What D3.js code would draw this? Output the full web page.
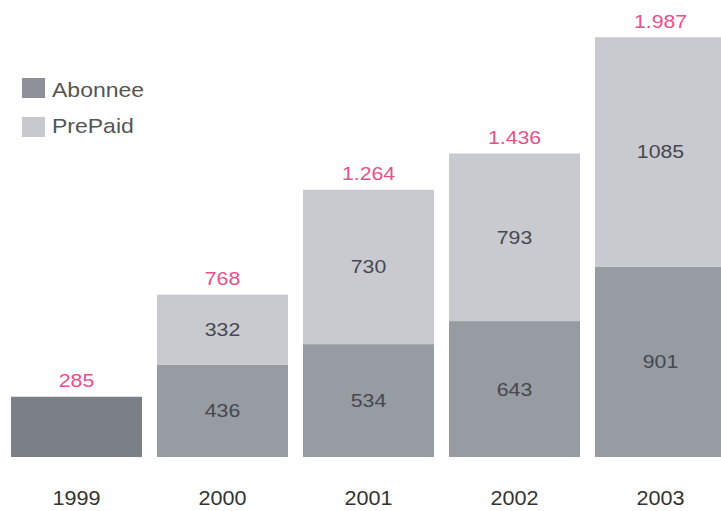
<!DOCTYPE html>
<html><head><meta charset="utf-8">
<script src="https://cdn.jsdelivr.net/npm/d3@7"></script>
<style>body{margin:0;background:#fff}svg{display:block}</style>
</head><body>
<script>
const years = ["1999","2000","2001","2002","2003"];
const abonnee = [285,436,534,643,901];
const prepaid = [0,332,730,793,1085];
const totalLabels = ["285","768","1.264","1.436","1.987"];
const seriesNames = ["Abonnee","PrePaid"];

const W=721,H=511;
const svg=d3.select("body").append("svg").attr("width",W).attr("height",H);
const font="'Liberation Sans', Arial, sans-serif";

const x=d3.scaleBand().domain(years).range([11,726]).paddingInner(0.1027).paddingOuter(0);
const y=d3.scaleLinear().domain([0,1987]).range([457,37]);
const colAb="#979ba2", colAb99="#7b7f87", colPre="#c9cad0";

const rows=years.map((yr,i)=>({year:yr,Abonnee:abonnee[i],PrePaid:prepaid[i],label:totalLabels[i]}));
const stack=d3.stack().keys(seriesNames)(rows);

function label(g,cx,by,txt,size,sx,fill,anchor){
  return g.append("text")
    .attr("transform",`translate(${cx},${by}) scale(${sx},1)`)
    .attr("text-anchor",anchor||"middle").attr("font-family",font).attr("font-size",size)
    .attr("fill",fill).text(txt);
}

stack.forEach((s,si)=>{
  svg.append("g").selectAll("rect").data(s).join("rect")
    .attr("x",d=>x(d.data.year)).attr("width",x.bandwidth())
    .attr("y",d=>y(d[1])).attr("height",d=>y(d[0])-y(d[1]))
    .attr("fill",(d,i)=>si===0?(i===0?colAb99:colAb):colPre);
  const g=svg.append("g");
  s.forEach((d,i)=>{
    if(i===0) return;
    label(g,x(d.data.year)+x.bandwidth()/2,(y(d[0])+y(d[1]))/2+6.5,d.data[s.key],19,1.12,"#454850");
  });
});

// totals
const tg=svg.append("g");
rows.forEach(d=>label(tg,x(d.year)+x.bandwidth()/2,y(d.Abonnee+d.PrePaid)-9.5,d.label,19,1.12,"#e8508c"));

// year labels
const yg=svg.append("g");
years.forEach(d=>label(yg,x(d)+x.bandwidth()/2,505,d,20,1.08,"#333"));

// legend
const lg=svg.append("g");
seriesNames.forEach((n,i)=>{
  lg.append("rect").attr("x",22).attr("y",78+i*39).attr("width",23).attr("height",20)
    .attr("fill",i===0?"#8e9098":"#c8c9cd");
  label(lg,52,97+i*36,n,20,1.15,"#555","start");
});
</script>
</body></html>
